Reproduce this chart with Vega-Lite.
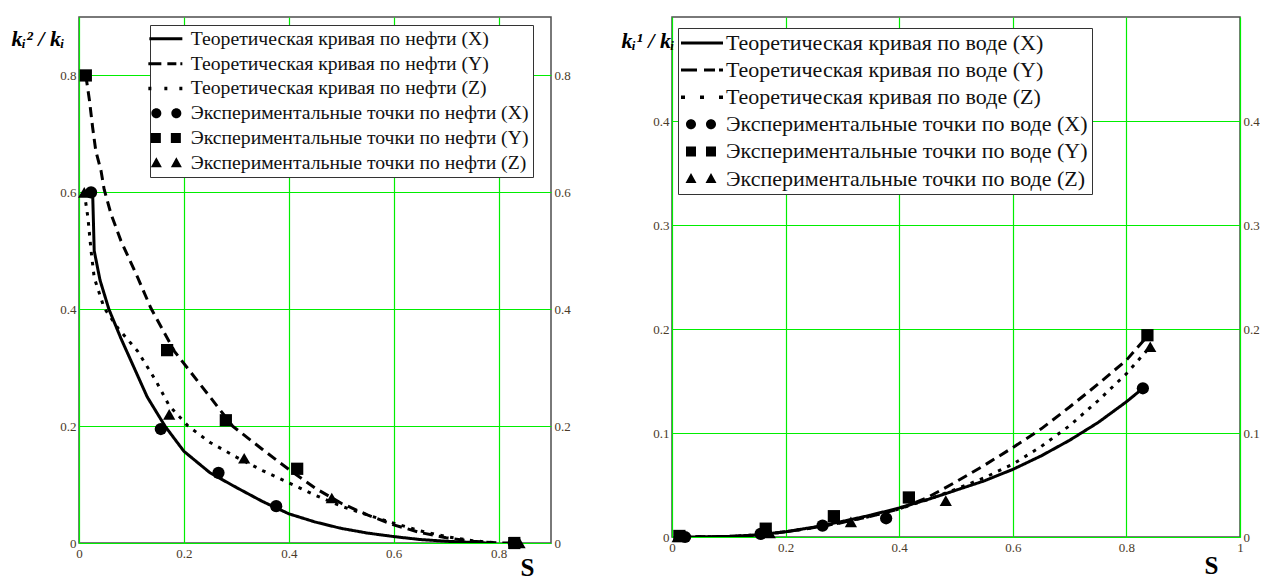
{
  "$schema": "https://vega.github.io/schema/vega-lite/v6.json",
  "background": "white",
  "padding": {"left": 10, "top": 16, "right": 0, "bottom": 0},
  "spacing": 49,
  "config": {
    "view": {"stroke": "#4d4d4d", "strokeWidth": 1.5},
    "axis": {"labelFont": "Liberation Serif", "labelFontSize": 13, "labelColor": "#4a3a28", "ticks": false, "domain": false, "gridColor": "#00ee00", "gridWidth": 1.2, "gridOpacity": 1, "labelFlush": false, "labelOverlap": false, "titleColor": "#000000"}
  },
  "resolve": {"scale": {"shape": "independent", "strokeDash": "independent"}, "legend": {"shape": "independent"}},
  "datasets": {
    "oilCurves": [
      {"S": 0.026, "k": 0.60, "series": "X"}, {"S": 0.029, "k": 0.50, "series": "X"}, {"S": 0.040, "k": 0.450, "series": "X"}, {"S": 0.057, "k": 0.40, "series": "X"}, {"S": 0.080, "k": 0.35, "series": "X"}, {"S": 0.105, "k": 0.30, "series": "X"}, {"S": 0.130, "k": 0.25, "series": "X"}, {"S": 0.164, "k": 0.20, "series": "X"}, {"S": 0.20, "k": 0.157, "series": "X"}, {"S": 0.25, "k": 0.120, "series": "X"}, {"S": 0.30, "k": 0.095, "series": "X"}, {"S": 0.35, "k": 0.071, "series": "X"}, {"S": 0.40, "k": 0.050, "series": "X"}, {"S": 0.45, "k": 0.036, "series": "X"}, {"S": 0.50, "k": 0.025, "series": "X"}, {"S": 0.55, "k": 0.017, "series": "X"}, {"S": 0.60, "k": 0.011, "series": "X"}, {"S": 0.65, "k": 0.006, "series": "X"}, {"S": 0.70, "k": 0.003, "series": "X"}, {"S": 0.75, "k": 0.001, "series": "X"}, {"S": 0.78, "k": 0.0, "series": "X"},
      {"S": 0.013, "k": 0.80, "series": "Y"}, {"S": 0.020, "k": 0.757, "series": "Y"}, {"S": 0.026, "k": 0.711, "series": "Y"}, {"S": 0.032, "k": 0.671, "series": "Y"}, {"S": 0.042, "k": 0.637, "series": "Y"}, {"S": 0.048, "k": 0.605, "series": "Y"}, {"S": 0.061, "k": 0.563, "series": "Y"}, {"S": 0.080, "k": 0.517, "series": "Y"}, {"S": 0.112, "k": 0.454, "series": "Y"}, {"S": 0.137, "k": 0.402, "series": "Y"}, {"S": 0.182, "k": 0.328, "series": "Y"}, {"S": 0.248, "k": 0.252, "series": "Y"}, {"S": 0.293, "k": 0.20, "series": "Y"}, {"S": 0.35, "k": 0.160, "series": "Y"}, {"S": 0.40, "k": 0.126, "series": "Y"}, {"S": 0.45, "k": 0.094, "series": "Y"}, {"S": 0.50, "k": 0.068, "series": "Y"}, {"S": 0.55, "k": 0.048, "series": "Y"}, {"S": 0.60, "k": 0.031, "series": "Y"}, {"S": 0.65, "k": 0.018, "series": "Y"}, {"S": 0.70, "k": 0.009, "series": "Y"}, {"S": 0.75, "k": 0.003, "series": "Y"}, {"S": 0.80, "k": 0.0, "series": "Y"}, {"S": 0.83, "k": 0.0, "series": "Y"},
      {"S": 0.010, "k": 0.60, "series": "Z"}, {"S": 0.017, "k": 0.557, "series": "Z"}, {"S": 0.023, "k": 0.50, "series": "Z"}, {"S": 0.029, "k": 0.454, "series": "Z"}, {"S": 0.048, "k": 0.402, "series": "Z"}, {"S": 0.074, "k": 0.368, "series": "Z"}, {"S": 0.112, "k": 0.328, "series": "Z"}, {"S": 0.147, "k": 0.277, "series": "Z"}, {"S": 0.172, "k": 0.235, "series": "Z"}, {"S": 0.208, "k": 0.20, "series": "Z"}, {"S": 0.25, "k": 0.172, "series": "Z"}, {"S": 0.30, "k": 0.147, "series": "Z"}, {"S": 0.35, "k": 0.124, "series": "Z"}, {"S": 0.40, "k": 0.103, "series": "Z"}, {"S": 0.45, "k": 0.082, "series": "Z"}, {"S": 0.50, "k": 0.063, "series": "Z"}, {"S": 0.55, "k": 0.048, "series": "Z"}, {"S": 0.60, "k": 0.034, "series": "Z"}, {"S": 0.65, "k": 0.021, "series": "Z"}, {"S": 0.70, "k": 0.011, "series": "Z"}, {"S": 0.75, "k": 0.004, "series": "Z"}, {"S": 0.80, "k": 0.0, "series": "Z"}
    ],
    "oilPoints": [
      {"S": 0.023, "k": 0.60, "series": "X"}, {"S": 0.156, "k": 0.195, "series": "X"}, {"S": 0.266, "k": 0.120, "series": "X"}, {"S": 0.376, "k": 0.063, "series": "X"}, {"S": 0.829, "k": 0.0, "series": "X"},
      {"S": 0.013, "k": 0.80, "series": "Y"}, {"S": 0.168, "k": 0.33, "series": "Y"}, {"S": 0.280, "k": 0.21, "series": "Y"}, {"S": 0.416, "k": 0.127, "series": "Y"}, {"S": 0.830, "k": 0.0, "series": "Y"},
      {"S": 0.010, "k": 0.60, "series": "Z"}, {"S": 0.172, "k": 0.22, "series": "Z"}, {"S": 0.315, "k": 0.145, "series": "Z"}, {"S": 0.482, "k": 0.077, "series": "Z"}, {"S": 0.840, "k": 0.0, "series": "Z"}
    ],
    "oilLegend": [
      {"label": "Теоретическая кривая по нефти (X)"}, {"label": "Теоретическая кривая по нефти (Y)"}, {"label": "Теоретическая кривая по нефти (Z)"},
      {"label": "Экспериментальные точки по нефти (X)"}, {"label": "Экспериментальные точки по нефти (Y)"}, {"label": "Экспериментальные точки по нефти (Z)"}
    ],
    "waterCurves": [
      {"S": 0.023, "k": 0.0, "series": "X"}, {"S": 0.10, "k": 0.0005, "series": "X"}, {"S": 0.15, "k": 0.002, "series": "X"}, {"S": 0.20, "k": 0.005, "series": "X"}, {"S": 0.25, "k": 0.0095, "series": "X"}, {"S": 0.30, "k": 0.015, "series": "X"}, {"S": 0.35, "k": 0.021, "series": "X"}, {"S": 0.40, "k": 0.028, "series": "X"}, {"S": 0.45, "k": 0.036, "series": "X"}, {"S": 0.50, "k": 0.045, "series": "X"}, {"S": 0.55, "k": 0.054, "series": "X"}, {"S": 0.60, "k": 0.065, "series": "X"}, {"S": 0.65, "k": 0.078, "series": "X"}, {"S": 0.70, "k": 0.093, "series": "X"}, {"S": 0.75, "k": 0.110, "series": "X"}, {"S": 0.80, "k": 0.130, "series": "X"}, {"S": 0.829, "k": 0.143, "series": "X"},
      {"S": 0.013, "k": 0.0, "series": "Y"}, {"S": 0.10, "k": 0.0005, "series": "Y"}, {"S": 0.15, "k": 0.002, "series": "Y"}, {"S": 0.20, "k": 0.005, "series": "Y"}, {"S": 0.25, "k": 0.009, "series": "Y"}, {"S": 0.30, "k": 0.014, "series": "Y"}, {"S": 0.35, "k": 0.020, "series": "Y"}, {"S": 0.40, "k": 0.027, "series": "Y"}, {"S": 0.45, "k": 0.038, "series": "Y"}, {"S": 0.50, "k": 0.053, "series": "Y"}, {"S": 0.55, "k": 0.069, "series": "Y"}, {"S": 0.60, "k": 0.086, "series": "Y"}, {"S": 0.65, "k": 0.104, "series": "Y"}, {"S": 0.70, "k": 0.125, "series": "Y"}, {"S": 0.75, "k": 0.147, "series": "Y"}, {"S": 0.80, "k": 0.170, "series": "Y"}, {"S": 0.837, "k": 0.193, "series": "Y"},
      {"S": 0.010, "k": 0.0, "series": "Z"}, {"S": 0.10, "k": 0.0005, "series": "Z"}, {"S": 0.15, "k": 0.002, "series": "Z"}, {"S": 0.20, "k": 0.005, "series": "Z"}, {"S": 0.25, "k": 0.009, "series": "Z"}, {"S": 0.30, "k": 0.014, "series": "Z"}, {"S": 0.35, "k": 0.020, "series": "Z"}, {"S": 0.40, "k": 0.027, "series": "Z"}, {"S": 0.45, "k": 0.036, "series": "Z"}, {"S": 0.50, "k": 0.046, "series": "Z"}, {"S": 0.55, "k": 0.057, "series": "Z"}, {"S": 0.60, "k": 0.070, "series": "Z"}, {"S": 0.65, "k": 0.087, "series": "Z"}, {"S": 0.70, "k": 0.107, "series": "Z"}, {"S": 0.75, "k": 0.131, "series": "Z"}, {"S": 0.80, "k": 0.157, "series": "Z"}, {"S": 0.842, "k": 0.183, "series": "Z"}
    ],
    "waterPoints": [
      {"S": 0.023, "k": 0.0, "series": "X"}, {"S": 0.156, "k": 0.003, "series": "X"}, {"S": 0.265, "k": 0.011, "series": "X"}, {"S": 0.377, "k": 0.018, "series": "X"}, {"S": 0.829, "k": 0.143, "series": "X"},
      {"S": 0.013, "k": 0.001, "series": "Y"}, {"S": 0.165, "k": 0.008, "series": "Y"}, {"S": 0.285, "k": 0.020, "series": "Y"}, {"S": 0.417, "k": 0.038, "series": "Y"}, {"S": 0.837, "k": 0.194, "series": "Y"},
      {"S": 0.010, "k": 0.0, "series": "Z"}, {"S": 0.172, "k": 0.004, "series": "Z"}, {"S": 0.315, "k": 0.0145, "series": "Z"}, {"S": 0.482, "k": 0.035, "series": "Z"}, {"S": 0.842, "k": 0.183, "series": "Z"}
    ],
    "waterLegend": [
      {"label": "Теоретическая кривая по воде (X)"}, {"label": "Теоретическая кривая по воде (Y)"}, {"label": "Теоретическая кривая по воде (Z)"},
      {"label": "Экспериментальные точки по воде (X)"}, {"label": "Экспериментальные точки по воде (Y)"}, {"label": "Экспериментальные точки по воде (Z)"}
    ]
  },
  "hconcat": [
    {
      "width": 472,
      "height": 526,
      "resolve": {"axis": {"y": "independent"}, "scale": {"shape": "independent"}},
      "layer": [
        {
          "data": {"name": "oilCurves"},
          "mark": {"type": "line", "color": "black", "strokeWidth": 3, "clip": true},
          "encoding": {
            "x": {"field": "S", "type": "quantitative", "scale": {"domain": [0, 0.9], "nice": false, "zero": false},
                  "axis": {"values": [0, 0.2, 0.4, 0.6, 0.8], "grid": true, "format": ".1~f", "labelPadding": 4, "title": "S", "titleFont": "Liberation Serif", "titleFontSize": 25, "titleFontWeight": "bold", "titleX": 448, "titleY": 32, "titleAlign": "center", "titleBaseline": "alphabetic"}},
            "y": {"field": "k", "type": "quantitative", "scale": {"domain": [0, 0.9], "nice": false, "zero": false},
                  "axis": {"orient": "left", "values": [0, 0.2, 0.4, 0.6, 0.8], "grid": true, "format": ".1~f", "labelPadding": 3, "title": "kᵢ² / kᵢ", "titleFont": "Liberation Serif", "titleFontSize": 22, "titleFontWeight": "bold", "titleFontStyle": "italic", "titleAngle": 0, "titleAlign": "left", "titleBaseline": "alphabetic", "titleX": -68, "titleY": 28}},
            "strokeDash": {"field": "series", "type": "nominal", "scale": {"domain": ["X", "Y", "Z"], "range": [[1, 0], [10, 6], [3.5, 6.5]]}, "legend": null}
          }
        },
        {
          "data": {"name": "oilPoints"},
          "mark": {"type": "point", "filled": true, "color": "black", "size": 150, "opacity": 1},
          "encoding": {
            "x": {"field": "S", "type": "quantitative"},
            "y": {"field": "k", "type": "quantitative", "axis": {"orient": "right", "values": [0, 0.2, 0.4, 0.6, 0.8], "grid": false, "format": ".1~f", "labelPadding": 3, "title": null}},
            "shape": {"field": "series", "type": "nominal", "scale": {"domain": ["X", "Y", "Z"], "range": ["circle", "square", "triangle-up"]}, "legend": null}
          }
        },
        {
          "data": {"name": "oilLegend"},
          "mark": {"type": "point", "filled": true, "color": "black", "opacity": 0},
          "encoding": {
            "shape": {"field": "label", "type": "nominal",
              "scale": {"domain": ["Теоретическая кривая по нефти (X)", "Теоретическая кривая по нефти (Y)", "Теоретическая кривая по нефти (Z)", "Экспериментальные точки по нефти (X)", "Экспериментальные точки по нефти (Y)", "Экспериментальные точки по нефти (Z)"],
                        "range": ["M-2.9,-0.3H3.7V0.3H-2.9Z", "M-3.1,-0.3H-0.5V0.3H-3.1ZM0.7,-0.3H2.5V0.3H0.7ZM3.3,-0.3H3.7V0.3H3.3Z", "M-3.1,-0.35H-2.5V0.35H-3.1ZM0.1,-0.35H0.7V0.35H0.1ZM3.1,-0.35H3.7V0.35H3.1Z", "M-2.5,0A1,1,0,1,0,-0.5,0A1,1,0,1,0,-2.5,0ZM1.5,0A1,1,0,1,0,3.5,0A1,1,0,1,0,1.5,0Z", "M-2.6,-1H-0.6V1H-2.6ZM1.4,-1H3.4V1H1.4Z", "M-1.5,-1.1L-0.4,0.9H-2.6ZM2.5,-1.1L3.6,0.9H1.4Z"]},
              "legend": {"orient": "none", "legendX": 71, "legendY": 8, "title": null, "padding": 4, "strokeColor": "#333333", "fillColor": "white", "symbolSize": 100, "symbolStrokeWidth": 0, "symbolFillColor": "black", "symbolOffset": 0, "labelFont": "Liberation Serif", "labelFontSize": 19.7, "labelColor": "#111111", "labelOffset": 17, "labelLimit": 600, "rowPadding": 3.8, "zindex": 1,
                "encode": {"symbols": {"update": {"opacity": {"value": 1}, "fill": {"value": "black"}, "strokeWidth": {"value": 0}}}, "legend": {"update": {"strokeWidth": {"value": 1.5}}}}}
            }
          }
        }
      ]
    },
    {
      "width": 568,
      "height": 520,
      "resolve": {"axis": {"x": "independent", "y": "independent"}, "scale": {"shape": "independent"}},
      "layer": [
        {
          "data": {"name": "waterCurves"},
          "mark": {"type": "line", "color": "black", "strokeWidth": 3, "clip": true},
          "encoding": {
            "x": {"field": "S", "type": "quantitative", "scale": {"domain": [0, 1], "nice": false, "zero": false},
                  "axis": {"values": [0, 0.2, 0.4, 0.6, 0.8, 1], "grid": true, "format": ".1~f", "labelPadding": 4, "title": "S", "titleFont": "Liberation Serif", "titleFontSize": 25, "titleFontWeight": "bold", "titleX": 539, "titleY": 36, "titleAlign": "center", "titleBaseline": "alphabetic"}},
            "y": {"field": "k", "type": "quantitative", "scale": {"domain": [0, 0.5], "nice": false, "zero": false},
                  "axis": {"orient": "left", "values": [0, 0.1, 0.2, 0.3, 0.4], "grid": true, "format": ".1~f", "labelPadding": 3, "title": "kᵢ¹ / kᵢ", "titleFont": "Liberation Serif", "titleFontSize": 22, "titleFontWeight": "bold", "titleFontStyle": "italic", "titleAngle": 0, "titleAlign": "left", "titleBaseline": "alphabetic", "titleX": -51, "titleY": 30}},
            "strokeDash": {"field": "series", "type": "nominal", "scale": {"domain": ["X", "Y", "Z"], "range": [[1, 0], [10, 6], [3.5, 6.5]]}, "legend": null}
          }
        },
        {
          "data": {"name": "waterPoints"},
          "mark": {"type": "point", "filled": true, "color": "black", "size": 150, "opacity": 1},
          "encoding": {
            "x": {"field": "S", "type": "quantitative", "axis": null},
            "y": {"field": "k", "type": "quantitative", "axis": {"orient": "right", "values": [0, 0.1, 0.2, 0.3, 0.4], "grid": false, "format": ".1~f", "labelPadding": 3, "title": null}},
            "shape": {"field": "series", "type": "nominal", "scale": {"domain": ["X", "Y", "Z"], "range": ["circle", "square", "triangle-up"]}, "legend": null}
          }
        },
        {
          "data": {"name": "waterLegend"},
          "mark": {"type": "point", "filled": true, "color": "black", "opacity": 0},
          "encoding": {
            "shape": {"field": "label", "type": "nominal",
              "scale": {"domain": ["Теоретическая кривая по воде (X)", "Теоретическая кривая по воде (Y)", "Теоретическая кривая по воде (Z)", "Экспериментальные точки по воде (X)", "Экспериментальные точки по воде (Y)", "Экспериментальные точки по воде (Z)"],
                        "range": ["M-2.4,-0.3H6V0.3H-2.4Z", "M-2.4,-0.3H0.8V0.3H-2.4ZM2.2,-0.3H4.4V0.3H2.2ZM5.2,-0.3H6V0.3H5.2Z", "M-2.4,-0.35H-1.6V0.35H-2.4ZM1.4,-0.35H2.2V0.35H1.4ZM5.2,-0.35H6V0.35H5.2Z", "M-1.4,0A1,1,0,1,0,0.6,0A1,1,0,1,0,-1.4,0ZM2.6,0A1,1,0,1,0,4.6,0A1,1,0,1,0,2.6,0Z", "M-1.4,-1H0.6V1H-1.4ZM2.6,-1H4.6V1H2.6Z", "M-0.4,-1.1L0.7,0.9H-1.5ZM3.6,-1.1L4.7,0.9H2.5Z"]},
              "legend": {"orient": "none", "legendX": 6, "legendY": 11, "title": null, "padding": 4, "strokeColor": "#333333", "fillColor": "white", "symbolSize": 100, "symbolStrokeWidth": 0, "symbolFillColor": "black", "symbolOffset": 0, "labelFont": "Liberation Serif", "labelFontSize": 22, "labelColor": "#111111", "labelOffset": 22, "labelLimit": 600, "rowPadding": 5.1, "zindex": 1,
                "encode": {"symbols": {"update": {"opacity": {"value": 1}, "fill": {"value": "black"}, "strokeWidth": {"value": 0}}}, "legend": {"update": {"strokeWidth": {"value": 1.5}}}}}
            }
          }
        }
      ]
    }
  ]
}
